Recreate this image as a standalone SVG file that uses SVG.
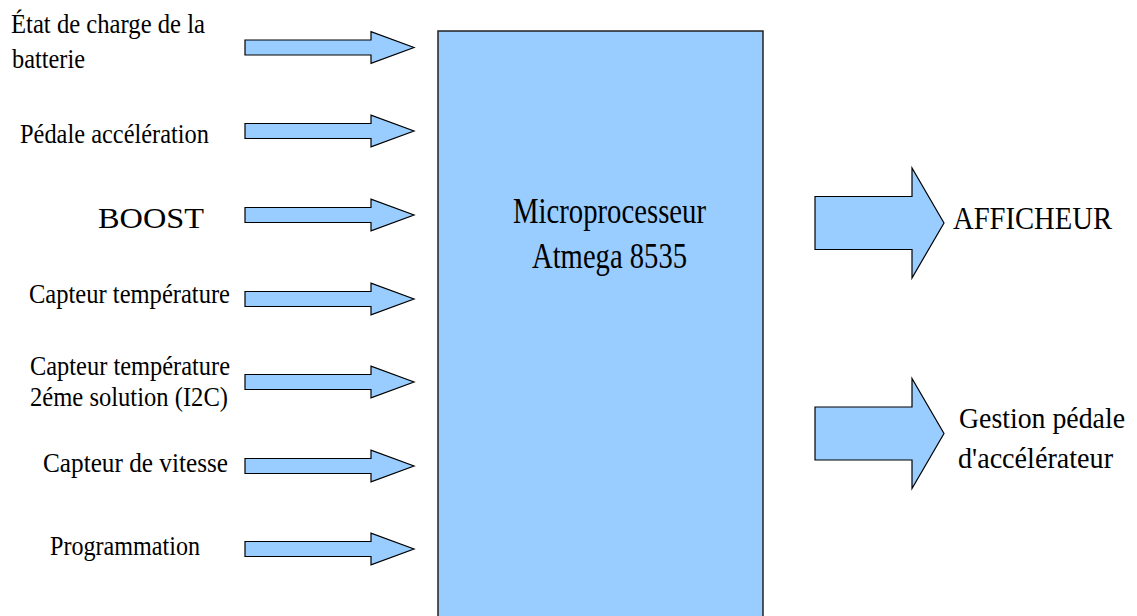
<svg xmlns="http://www.w3.org/2000/svg" width="1137" height="616" viewBox="0 0 1137 616">
<style>
text{font-family:"Liberation Serif","Times New Roman",serif;fill:#000}
.s{font-size:27px}
.arrow{fill:#99ccff;stroke:#000;stroke-width:1.2}
</style>
<defs>
<path id="la" d="M245,-7.5 H371 V-15.8 L414,0 L371,15.8 V7.5 H245 Z"/>
<path id="ra" d="M815,-26.5 H912 V-55 L944,0 L912,55 V26.5 H815 Z"/>
</defs>
<rect width="1137" height="616" fill="#fff"/>
<g id="cpu">
<rect x="438" y="31" width="325" height="600" fill="#99ccff" stroke="#222" stroke-width="1.5"/>
<text x="513" y="223" style="font-size:35px" textLength="193" lengthAdjust="spacingAndGlyphs">Microprocesseur</text>
<text x="532" y="268" style="font-size:35px" textLength="155" lengthAdjust="spacingAndGlyphs">Atmega 8535</text>
</g>
<g id="connectors">
<use href="#la" class="arrow" transform="translate(0,47.5)"/>
<use href="#la" class="arrow" transform="translate(0,131)"/>
<use href="#la" class="arrow" transform="translate(0,215)"/>
<use href="#la" class="arrow" transform="translate(0,299)"/>
<use href="#la" class="arrow" transform="translate(0,382)"/>
<use href="#la" class="arrow" transform="translate(0,466)"/>
<use href="#la" class="arrow" transform="translate(0,549)"/>
<use href="#ra" class="arrow" transform="translate(0,223)"/>
<use href="#ra" class="arrow" transform="translate(0,433.5)"/>
</g>
<g id="in-batterie">
<text class="s" x="11" y="33" textLength="194" lengthAdjust="spacingAndGlyphs">État de charge de la</text>
<text class="s" x="12" y="68" textLength="73" lengthAdjust="spacingAndGlyphs">batterie</text>
</g>
<g id="in-pedale">
<text class="s" x="20" y="143" textLength="189" lengthAdjust="spacingAndGlyphs">Pédale accélération</text>
</g>
<g id="in-boost">
<text x="98" y="228" style="font-size:29px" textLength="106" lengthAdjust="spacingAndGlyphs">BOOST</text>
</g>
<g id="in-temp">
<text class="s" x="29" y="303" textLength="201" lengthAdjust="spacingAndGlyphs">Capteur température</text>
</g>
<g id="in-temp2">
<text class="s" x="30" y="375" textLength="200" lengthAdjust="spacingAndGlyphs">Capteur température</text>
<text class="s" x="30" y="406" textLength="198" lengthAdjust="spacingAndGlyphs">2éme solution (I2C)</text>
</g>
<g id="in-vitesse">
<text class="s" x="43" y="472" textLength="185" lengthAdjust="spacingAndGlyphs">Capteur de vitesse</text>
</g>
<g id="in-prog">
<text class="s" x="50" y="555" textLength="150" lengthAdjust="spacingAndGlyphs">Programmation</text>
</g>
<g id="out-afficheur">
<text x="953" y="229" style="font-size:32px" textLength="159" lengthAdjust="spacingAndGlyphs">AFFICHEUR</text>
</g>
<g id="out-pedale">
<text x="959" y="428" style="font-size:30px" textLength="166" lengthAdjust="spacingAndGlyphs">Gestion pédale</text>
<text x="958" y="468" style="font-size:30px" textLength="155" lengthAdjust="spacingAndGlyphs">d'accélérateur</text>
</g>
</svg>
